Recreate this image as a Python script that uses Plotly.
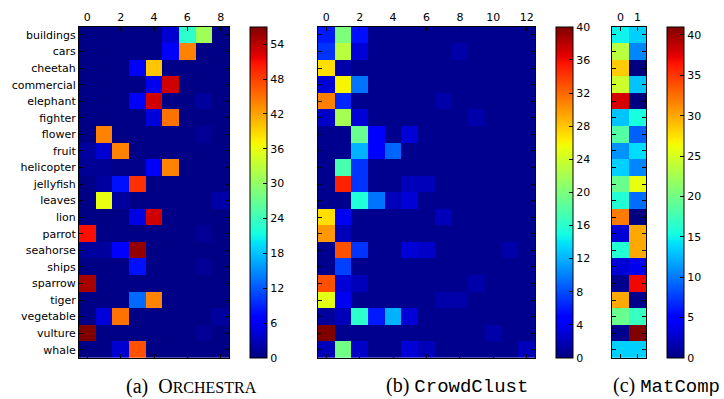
import numpy as np
import plotly.graph_objects as go

categories = ["buildings", "cars", "cheetah", "commercial", "elephant", "fighter",
              "flower", "fruit", "helicopter", "jellyfish", "leaves", "lion",
              "parrot", "seahorse", "ships", "sparrow", "tiger", "vegetable",
              "vulture", "whale"]

# (a) ORCHESTRA : 20 x 9
orchestra = [
    [0.3, 0.3, 0.3, 0.3, 0.3, 4, 23, 31, 0.3],
    [0.3, 0.3, 0.3, 0.3, 0.3, 6, 44, 0.3, 0.3],
    [0.3, 0.3, 0.3, 6, 40, 0.3, 0.3, 0.3, 0.3],
    [0.3, 0.3, 0.3, 0.3, 5.5, 53, 0.3, 0.3, 0.3],
    [0.3, 0.3, 0.3, 6, 53, 0.3, 0.3, 1.5, 0.3],
    [0.3, 0.3, 0.3, 0.3, 4.5, 45, 0.3, 0.3, 0.3],
    [0.3, 44, 0.3, 0.3, 0.3, 0.3, 0.3, 1, 0.3],
    [1.5, 4, 44, 0.3, 0.3, 0.3, 0.3, 0.3, 0.3],
    [1, 1, 0.5, 0.5, 6, 44, 0.3, 0.3, 0.3],
    [0.3, 1.5, 8, 49, 0.3, 0.3, 0.3, 0.3, 0.3],
    [0.3, 36, 1.5, 0.3, 0.3, 0.3, 0.3, 0.3, 2],
    [0.3, 0.3, 0.3, 5, 53, 0.3, 0.3, 0.3, 0.3],
    [51, 0.3, 0.3, 0.3, 0.3, 0.3, 0.3, 1, 0.3],
    [1.5, 1.5, 6.5, 56, 0.3, 0.3, 0.3, 0.3, 0.3],
    [0.3, 0.3, 0.3, 8, 0.3, 0.3, 0.3, 1, 0.3],
    [55, 0.3, 0.3, 0.3, 0.3, 0.3, 0.3, 0.3, 0.3],
    [0.3, 0.3, 0.3, 13, 44, 0.3, 0.3, 0.3, 0.3],
    [0.3, 4.5, 45, 0.3, 0.3, 0.3, 0.3, 0.3, 1.5],
    [57, 0.3, 0.3, 0.3, 0.3, 0.3, 0.3, 1, 0.3],
    [0.3, 0.3, 4, 47, 0.3, 0.3, 0.3, 0.3, 0.3],
]

# (b) CrowdClust : 20 x 13
crowdclust = [
    [6, 20, 5.5, 0.5, 0.5, 0.5, 0.5, 0.5, 0.5, 0.5, 0.5, 0.5, 0.5],
    [7, 23, 3, 0.5, 0.5, 0.5, 0.5, 0.5, 1.5, 0.5, 0.5, 0.5, 0.5],
    [27, 1.5, 0.5, 0.5, 0.5, 0.5, 0.5, 0.5, 0.5, 0.5, 0.5, 0.5, 0.5],
    [3, 26, 9.5, 0.5, 0.5, 0.5, 0.5, 0.5, 0.5, 0.5, 0.5, 0.5, 0.5],
    [31, 6.5, 0.5, 0.5, 0.5, 0.5, 0.5, 1.5, 0.5, 0.5, 0.5, 0.5, 0.5],
    [2.5, 22, 3, 0.5, 0.5, 0.5, 0.5, 0.5, 0.5, 1.5, 0.5, 0.5, 0.5],
    [0.5, 0.5, 19, 4.5, 0.5, 3, 0.5, 0.5, 0.5, 0.5, 0.5, 0.5, 0.5],
    [0.5, 0.5, 12, 4.5, 9, 0.5, 0.5, 0.5, 0.5, 0.5, 0.5, 0.5, 0.5],
    [0.5, 17.5, 7, 0.5, 0.5, 0.5, 0.5, 0.5, 0.5, 0.5, 0.5, 0.5, 0.5],
    [0.5, 35, 7, 0.5, 0.5, 2, 2, 0.5, 0.5, 0.5, 0.5, 0.5, 0.5],
    [0.5, 0.5, 15.5, 9.5, 2, 3, 0.5, 0.5, 0.5, 0.5, 0.5, 0.5, 0.5],
    [27, 4, 0.5, 0.5, 0.5, 0.5, 0.5, 2, 0.5, 0.5, 0.5, 0.5, 0.5],
    [30, 2, 0.5, 0.5, 0.5, 0.5, 0.5, 0.5, 0.5, 0.5, 0.5, 0.5, 0.5],
    [0.5, 33, 7, 0.5, 0.5, 3, 2.5, 0.5, 0.5, 0.5, 0.5, 1.5, 0.5],
    [0.5, 7.5, 0.5, 0.5, 0.5, 0.5, 0.5, 0.5, 0.5, 0.5, 0.5, 0.5, 0.5],
    [33, 3, 2, 0.5, 0.5, 0.5, 0.5, 0.5, 0.5, 1.5, 0.5, 0.5, 0.5],
    [25, 4, 0.5, 0.5, 0.5, 0.5, 0.5, 1.5, 1.5, 0.5, 0.5, 0.5, 0.5],
    [1, 2, 16, 6, 12, 3, 0.5, 0.5, 0.5, 0.5, 0.5, 0.5, 0.5],
    [40, 0.5, 0.5, 0.5, 0.5, 0.5, 0.5, 0.5, 0.5, 0.5, 1.5, 0.5, 0.5],
    [2, 19.5, 2.5, 0.5, 0.5, 3, 2, 0.5, 0.5, 0.5, 0.5, 0.5, 2],
]

# (c) MatComp : 20 x 2
matcomp = [
    [15, 13.5], [23.5, 10.5], [28.5, 0], [24.5, 13], [38, 0],
    [13, 15.5], [18.5, 9], [11, 14], [13.5, 10.5], [19.5, 26],
    [16, 9.5], [32, 0], [3, 30], [16, 30], [3, 4],
    [0.5, 37], [30, 0.5], [19.5, 17], [0.5, 41], [13.5, 13.5],
]

zmax_a, zmax_b, zmax_c = 57, 40, 41
cbar_dtick = [6, 4, 5]
x_dtick = [2, 2, 1]

# matplotlib "jet" colormap
stops = [0, 0.11, 0.125, 0.34, 0.35, 0.375, 0.64, 0.65, 0.66, 0.89, 0.91, 1]
def jet(x):
    r = np.interp(x, [0, 0.35, 0.66, 0.89, 1], [0, 0, 1, 1, 0.5])
    g = np.interp(x, [0, 0.125, 0.375, 0.64, 0.91, 1], [0, 0, 1, 1, 0, 0])
    b = np.interp(x, [0, 0.11, 0.34, 0.65, 1], [0.5, 1, 1, 0, 0])
    return "rgb(%d,%d,%d)" % (round(r * 255), round(g * 255), round(b * 255))
jet_scale = [[s, jet(s)] for s in stops]

W, H = 724, 399
def px(x): return x / W
def py(y): return 1 - y / H

top, bot = 26.7, 358
ydom = [py(bot), py(top)]
panels = [
    (orchestra, 79, 229, 250, zmax_a, True),
    (crowdclust, 318, 535, 556, zmax_b, False),
    (matcomp, 612, 646, 667, zmax_c, False),
]

fig = go.Figure()
font = dict(family="DejaVu Sans", size=11, color="black")
for i, (data, x0, x1, cbx, zmax, showlab) in enumerate(panels):
    k = "" if i == 0 else str(i + 1)
    z = np.array(data)
    ncol = z.shape[1]
    fig.add_trace(go.Heatmap(
        z=z, x=list(range(ncol)), y=list(range(len(categories))),
        coloraxis="coloraxis" + k, xaxis="x" + k, yaxis="y" + k,
        hoverinfo="skip"))
    fig.update_layout(**{
        "xaxis" + k: dict(domain=[px(x0), px(x1)], anchor="y" + k, side="top",
                          range=[-0.5, ncol - 0.5], tickmode="linear", tick0=0,
                          dtick=x_dtick[i],
                          ticks="inside", ticklen=4, tickcolor="black", showline=True,
                          linecolor="black", linewidth=1, mirror="ticks", showgrid=False,
                          zeroline=False, tickfont=font, automargin=False),
        "yaxis" + k: dict(domain=ydom, anchor="x" + k, range=[len(categories) - 0.5, -0.5],
                          tickmode="array", tickvals=list(range(len(categories))),
                          ticktext=categories if showlab else [""] * len(categories),
                          showticklabels=showlab,
                          ticks="inside", ticklen=4, tickcolor="black", showline=True,
                          linecolor="black", linewidth=1, mirror="ticks", showgrid=False,
                          zeroline=False, tickfont=font, automargin=False),
        "coloraxis" + k: dict(colorscale=jet_scale, cmin=0, cmax=zmax,
                              colorbar=dict(x=px(cbx), xanchor="left", xpad=0, ypad=0,
                                            y=(ydom[0] + ydom[1]) / 2, yanchor="middle",
                                            len=ydom[1] - ydom[0], lenmode="fraction",
                                            thickness=17, thicknessmode="pixels",
                                            outlinecolor="black", outlinewidth=1,
                                            ticks="inside", ticklen=4, tickcolor="black",
                                            tickmode="linear", tick0=0, dtick=cbar_dtick[i],
                                            tickfont=font)),
    })

cap_font = dict(family="Liberation Serif", size=20, color="black")
mono = "font-family:'Liberation Mono';font-size:19px"
cap_y = py(386)
fig.add_annotation(x=px(191.5), y=cap_y, xref="paper", yref="paper", showarrow=False,
                   xanchor="center", yanchor="middle", font=cap_font,
                   text="(a)  O<span style='font-size:16px'>RCHESTRA</span>")
fig.add_annotation(x=px(456.7), y=cap_y, xref="paper", yref="paper", showarrow=False,
                   xanchor="center", yanchor="middle", font=cap_font,
                   text="(b) <span style=\"%s\">CrowdClust</span>" % mono)
fig.add_annotation(x=px(666.5), y=cap_y, xref="paper", yref="paper", showarrow=False,
                   xanchor="center", yanchor="middle", font=cap_font,
                   text="(c) <span style=\"%s\">MatComp</span>" % mono)

fig.update_layout(width=W, height=H, margin=dict(l=0, r=0, t=0, b=0),
                  paper_bgcolor="white", plot_bgcolor="white")
fig.write_html("out.html")
